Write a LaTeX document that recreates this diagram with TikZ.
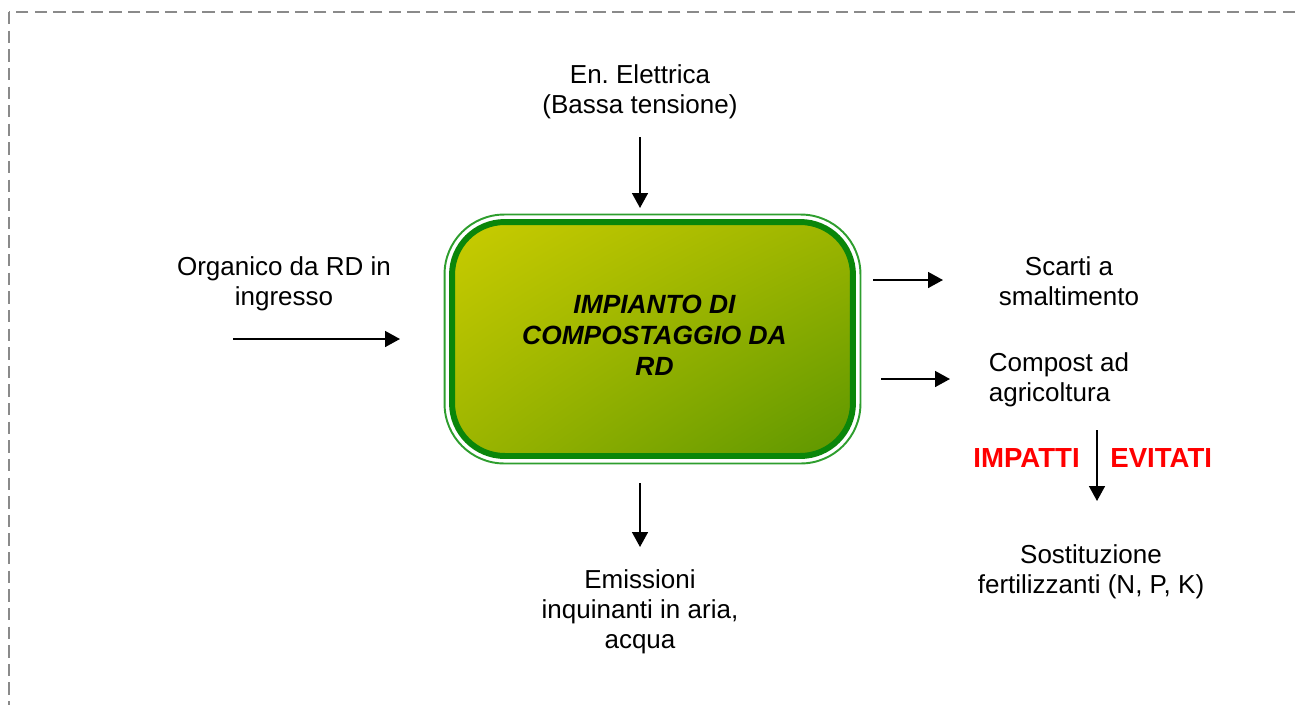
\documentclass[tikz,border=0pt]{standalone}
\usepackage{fontspec}
\setmainfont{Liberation Sans}
\frenchspacing
\usetikzlibrary{arrows.meta,positioning,calc,shadings}
\definecolor{boxgreen}{HTML}{0A860A}
\definecolor{rimgreen}{HTML}{2E9E2E}
\definecolor{fillyellow}{HTML}{C9CC00}
\definecolor{fillmid}{HTML}{9CB500}
\definecolor{filldark}{HTML}{5C9600}
\definecolor{frame}{HTML}{8A8A8A}
\tikzset{
  plant/.style={
    rectangle, rounded corners=30pt,
    draw=boxgreen, line width=3.4pt,
    upper left=fillyellow, upper right=fillmid,
    lower left=fillmid, lower right=filldark,
    minimum width=8.02cm, minimum height=4.68cm,
    outer sep=0pt, inner sep=0pt
  },
  planttext/.style={
    font=\bfseries\itshape\fontsize{15}{17.6}\selectfont,
    align=center, inner sep=0pt
  },
  flowlabel/.style={
    font=\fontsize{14.8}{17}\selectfont,
    inner sep=2pt
  },
  redlabel/.style={
    font=\bfseries\fontsize{15.7}{18}\selectfont,
    text=red, inner sep=0pt
  },
  arr/.style={-{Triangle[length=8.5pt,width=9pt]}, line width=1.1pt},
}

\begin{document}
\begin{tikzpicture}[x=0.02cm, y=-0.02cm]

  \useasboundingbox (0,0) rectangle (1295,704);
  \clip (0,0) rectangle (1295,704);

  % frame
  \draw[frame, line width=0.85pt, dash pattern=on 7pt off 3.6pt]
    (9,12) rectangle (1330,740);

  % plant
  \node[plant] (box) at (652.5,339) {};
  \draw[rimgreen, line width=1.1pt, rounded corners=34pt]
    ($(box.north west)+(-7.5,-7.5)$) rectangle ($(box.south east)+(7.5,7.5)$);
  \node[planttext] (plantname) at ($(box.center)+(2,-3.5)$)
    {IMPIANTO DI\\COMPOSTAGGIO DA\\RD};

  % labels
  \node[flowlabel, align=center] (elec) at (640,92)
    {En. Elettrica\\(Bassa tensione)};
  \node[flowlabel, align=center] (org) at (284,284)
    {Organico da RD in\\ingresso};
  \node[flowlabel, align=center] (scarti) at (1069,281)
    {Scarti a\\smaltimento};
  \node[flowlabel, align=left, anchor=west] (compost) at (985,380)
    {Compost ad\\agricoltura};
  \node[flowlabel, align=center] (sost) at (1091,572)
    {Sostituzione\\fertilizzanti (N, P, K)};
  \node[flowlabel, align=center] (emiss) at (640,612)
    {Emissioni\\inquinanti in aria,\\acqua};
  \node[redlabel, anchor=base east] (impatti) at (1080,467) {IMPATTI};
  \node[redlabel, anchor=base west] (evitati) at (1110,467) {EVITATI};

  % arrow ends
  \coordinate (elecout) at (640,137);
  \coordinate (elecin) at (640,208);
  \coordinate (orgout) at (233,339);
  \coordinate (orgin) at (400,339);
  \coordinate (scartiout) at (873,280);
  \coordinate (scartiin) at (943,280);
  \coordinate (compout) at (881,379);
  \coordinate (compin) at (950,379);
  \coordinate (sostout) at (1097,430);
  \coordinate (sostin) at (1097,501);
  \coordinate (emissout) at (640,483);
  \coordinate (emissin) at (640,547);

  % Arrows
  \draw[arr] (elecout) -- (elecin);
  \draw[arr] (orgout) -- (orgin);
  \draw[arr] (scartiout) -- (scartiin);
  \draw[arr] (compout) -- (compin);
  \draw[arr] (sostout) -- (sostin);
  \draw[arr] (emissout) -- (emissin);

\end{tikzpicture}
\end{document}
